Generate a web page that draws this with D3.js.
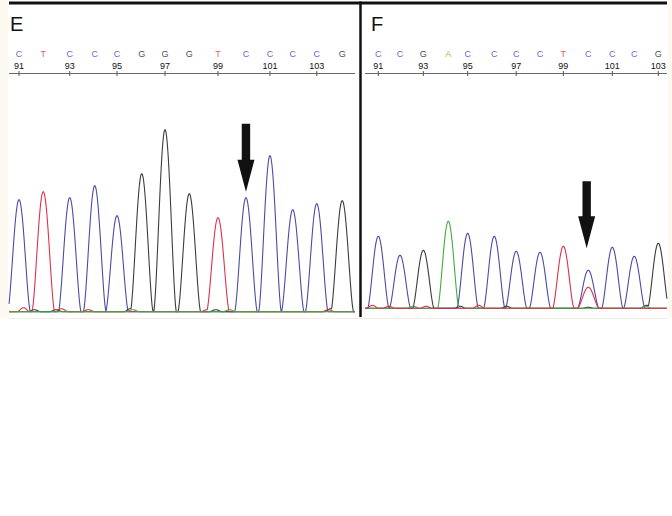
<!DOCTYPE html>
<html><head><meta charset="utf-8">
<script src="https://cdn.jsdelivr.net/npm/d3@7"></script>
<style>html,body{margin:0;padding:0;background:#fff;}svg{display:block;}</style>
</head><body><div id="chart"></div>
<script>
// ---------- DATA ----------
// Panel E
const basesE   = ["C","T","C","C","C","G","G","G","T","C","C","C","C","G"];
const posE     = [91.0, 91.98, 93.05, 94.06, 94.96, 95.96, 96.9, 97.88, 99.04, 100.17, 101.14, 102.06, 103.03, 104.06];
const heightE  = [112, 120, 114, 126, 96, 138, 182, 118, 94, 114, 156, 102, 108, 111];
const tickLabelsE = [91, 93, 95, 97, 99, 101, 103];
const minorE = [ // small baseline bumps: [base, position, height]
  ["T", 91.18, 4], ["G", 91.62, 2], ["G", 92.5, 2], ["T", 92.72, 3], ["T", 93.8, 2],
  ["G", 95.5, 3], ["A", 95.6, 2], ["G", 96.3, 2], ["T", 98.6, 2], ["G", 98.95, 2], ["A", 99.5, 2],
  ["T", 103.5, 2], ["G", 103.6, 3]
];
const arrowE = {pos: 100.17, tip: 120, top: 188};

// Panel F
const basesF   = ["C","C","G","A","C","C","C","C","T","C","C","C","G"];
const posF     = [91.0, 91.93, 92.93, 94.0, 94.83, 95.97, 96.91, 97.93, 98.93, 100.0, 101.03, 101.97, 103.0];
const heightF  = [72, 53, 58, 87, 75, 72, 57, 56, 62, 38, 61, 52, 65];
const tickLabelsF = [91, 93, 95, 97, 99, 101, 103];
const minorF = [
  ["T", 90.75, 3], ["T", 91.45, 2], ["A", 92.5, 2], ["T", 93.05, 2], ["G", 94.5, 2],
  ["T", 95.3, 3], ["G", 96.5, 2], ["T", 100.0, 21], ["G", 100.0, 1], ["G", 102.5, 3], ["A", 102.45, 2]
];
const arrowF = {pos: 99.93, tip: 60, top: 127};

// ---------- STYLE ----------
const traceColor  = {C: "#4b4ba6", T: "#e0304c", G: "#3c3c3c", A: "#3fae3f"};
const letterColor = {C: "#6a6ad0", T: "#e06868", G: "#505050", A: "#9cc43c"};
const W = 672, H = 516;

const svg = d3.select("#chart").append("svg").attr("width", W).attr("height", H);

// light beige page edges
svg.append("rect").attr("x",0).attr("y",0).attr("width",8).attr("height",318).attr("fill","#fcf9f0");
svg.append("rect").attr("x",668).attr("y",0).attr("width",4).attr("height",318).attr("fill","#fcf9f0");
svg.append("line").attr("x1",8).attr("x2",668).attr("y1",318.5).attr("y2",318.5).attr("stroke","#f0ece2").attr("stroke-width",1);

// peak profile with finite support (half-width w, in bases)
function peakShape(d, w) {
  const t = Math.abs(d) / w;
  return t >= 1 ? 0 : Math.pow(Math.cos(t * Math.PI / 2), 1.6);
}

function drawPanel(cfg) {
  const g = svg.append("g");
  const x = d3.scaleLinear().domain(cfg.domain).range(cfg.range);
  const y = d3.scaleLinear().domain([0, 200]).range([cfg.baseline, cfg.baseline - 200]);

  // panel letter
  g.append("text").attr("x", cfg.labelX).attr("y", 31)
    .attr("font-family", "Liberation Sans, Arial, sans-serif").attr("font-size", 20)
    .attr("fill", "#111").text(cfg.label);

  // base calls
  g.selectAll("text.base").data(cfg.bases).join("text").attr("class","base")
    .attr("x", (d,i) => x(cfg.pos[i])).attr("y", 56.5)
    .attr("text-anchor","middle").attr("font-family","Liberation Sans, Arial, sans-serif")
    .attr("font-size", 9).attr("fill", d => letterColor[d]).text(d => d);

  // axis line
  g.append("line").attr("x1", cfg.axis[0]).attr("x2", cfg.axis[1]).attr("y1", 73.5).attr("y2", 73.5)
    .attr("stroke", "#6a6a6a").attr("stroke-width", 1);
  const tickPos = cfg.ticks.map(t => cfg.pos[t - 91]);
  g.selectAll("line.tick").data(tickPos).join("line").attr("class","tick")
    .attr("x1", d => x(d)).attr("x2", d => x(d)).attr("y1", 71).attr("y2", 76)
    .attr("stroke", "#555").attr("stroke-width", 1);
  g.selectAll("text.tl").data(cfg.ticks).join("text").attr("class","tl")
    .attr("x", (d,i) => x(tickPos[i])).attr("y", 68.5)
    .attr("text-anchor","middle").attr("font-family","Liberation Sans, Arial, sans-serif")
    .attr("font-size", 9).attr("fill", "#111").text(d => d);

  // traces: each base channel is the envelope of its peaks
  const w = 0.46;
  const peaks = cfg.bases.map((b,i) => [b, cfg.pos[i], cfg.height[i]]).concat(cfg.minor);
  const xs = d3.range(x.invert(cfg.axis[0]), x.invert(cfg.axis[1]), 0.01);
  const line = d3.line().x(d => x(d[0])).y(d => y(d[1]));
  cfg.order.forEach(b => {
    const ps = peaks.filter(p => p[0] === b);
    const data = xs.map(v => [v, d3.max(ps, p => p[2] * peakShape(v - p[1], p[2] < 10 ? 0.25 : w)) || 0]);
    g.append("path").datum(data).attr("d", line).attr("fill","none")
      .attr("stroke", traceColor[b]).attr("stroke-width", 1.1).attr("stroke-linejoin","round");
  });

  // arrow
  const ax = x(cfg.arrow.pos), tipY = y(cfg.arrow.tip), topY = y(cfg.arrow.top);
  const headLen = 32, sw = 4.2, hw = 8.5;
  g.append("path").attr("fill", "#111").attr("d",
    `M${ax-sw},${topY} L${ax+sw},${topY} L${ax+sw},${tipY-headLen} L${ax+hw},${tipY-headLen} L${ax},${tipY} L${ax-hw},${tipY-headLen} L${ax-sw},${tipY-headLen} Z`);
}

drawPanel({label:"E", labelX: 10, bases: basesE, pos: posE, height: heightE, ticks: tickLabelsE, minor: minorE,
  arrow: arrowE, domain:[91,104], range:[19, 340.75], baseline: 311.7, axis:[9, 355], order:["C","G","T","A"]});
drawPanel({label:"F", labelX: 371, bases: basesF, pos: posF, height: heightF, ticks: tickLabelsF, minor: minorF,
  arrow: arrowF, domain:[91,103], range:[378.3, 658.3], baseline: 308.3, axis:[365, 667], order:["C","G","A","T"]});

// frame lines
svg.append("line").attr("x1", 9).attr("x2", 667).attr("y1", 3).attr("y2", 3).attr("stroke", "#111").attr("stroke-width", 3);
svg.append("line").attr("x1", 360.5).attr("x2", 360.5).attr("y1", 1.5).attr("y2", 317).attr("stroke", "#111").attr("stroke-width", 2.5);
</script></body></html>
